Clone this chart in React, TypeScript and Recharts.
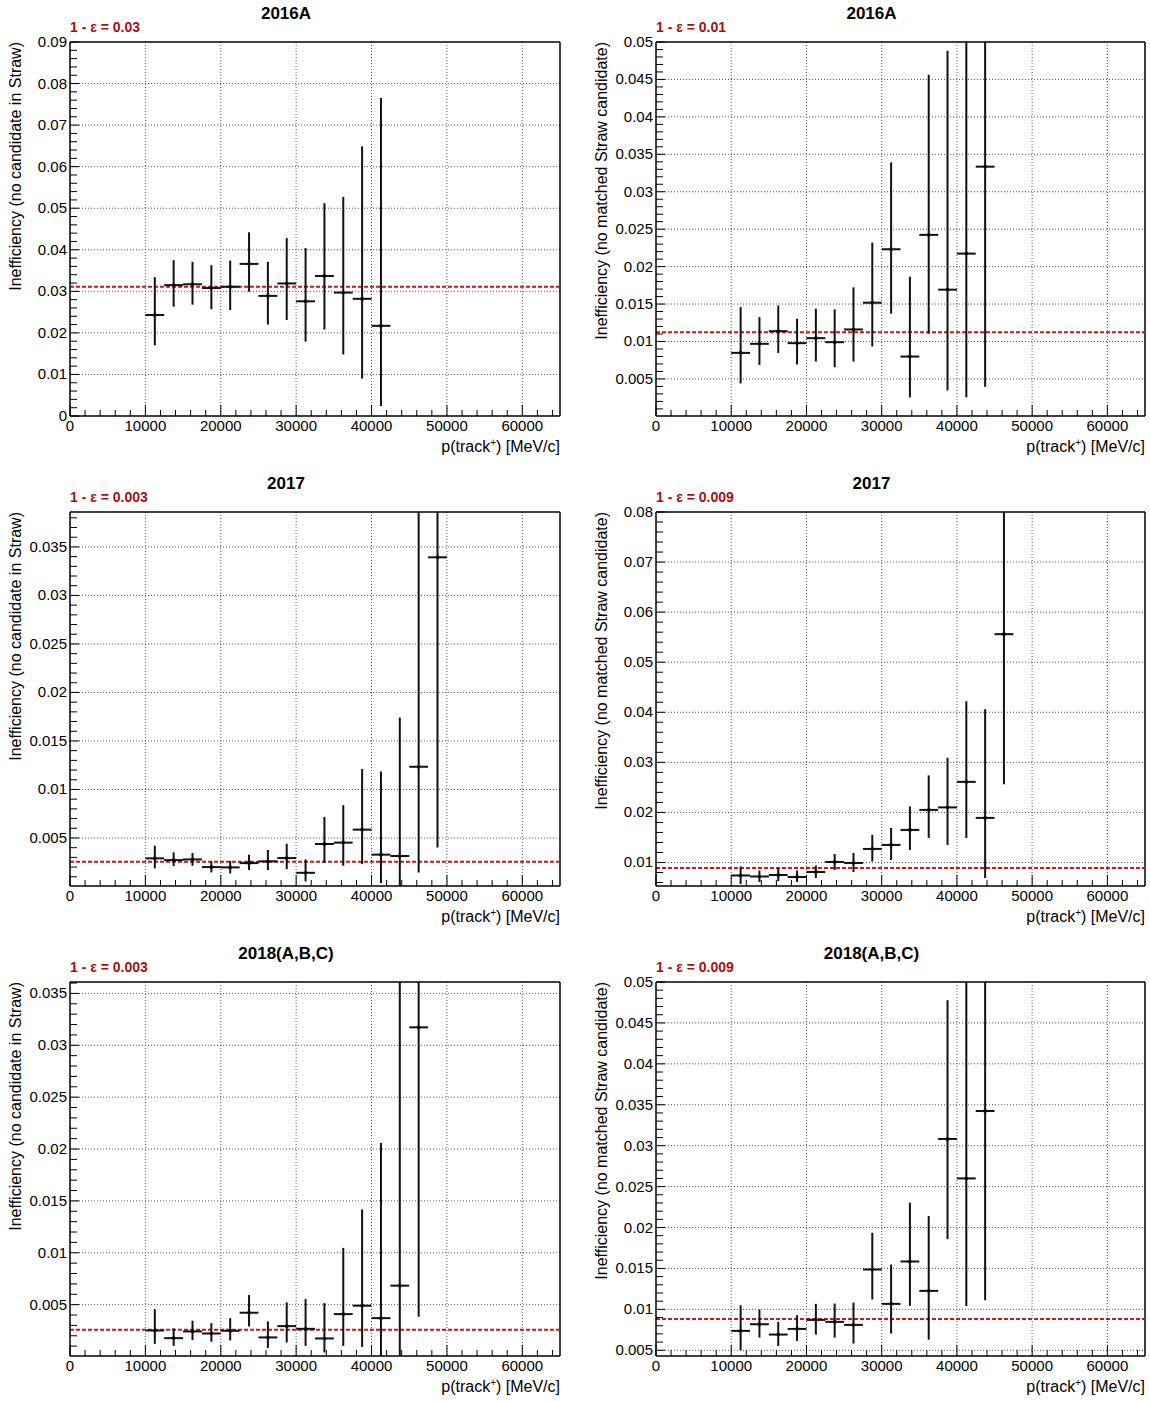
import React from 'react';
import { ScatterChart, Scatter, XAxis, YAxis, ErrorBar, ReferenceLine, CartesianGrid, Label } from 'recharts';

const FONT = '"Liberation Sans", Arial, Helvetica, sans-serif';

// momentum bins (MeV/c), 2500 wide starting at 10000
const binCenters = [11250, 13750, 16250, 18750, 21250, 23750, 26250, 28750, 31250, 33750, 36250, 38750, 41250, 43750, 46250, 48750];
const binHalfWidth = 1250;
const xMajorTicks = [0, 10000, 20000, 30000, 40000, 50000, 60000];
const xMinorStep = 2000;
const xMax = 65000;

// 2016A - no candidate in Straw
const ineff16 = [0.0243, 0.0315, 0.0317, 0.0308, 0.0311, 0.0366, 0.0289, 0.0319, 0.0276, 0.0337, 0.0297, 0.0282, 0.0217];
const lo16 = [0.0170, 0.0263, 0.0268, 0.0257, 0.0255, 0.0299, 0.0220, 0.0231, 0.0179, 0.0208, 0.0148, 0.0090, 0.0024];
const hi16 = [0.0334, 0.0375, 0.0371, 0.0363, 0.0374, 0.0442, 0.0371, 0.0428, 0.0404, 0.0512, 0.0527, 0.0649, 0.0765];

// 2016A - no matched Straw candidate
const ineff16m = [0.00848, 0.00969, 0.01138, 0.00978, 0.01045, 0.00991, 0.01161, 0.01518, 0.02232, 0.00799, 0.02424, 0.01692, 0.02174, 0.03335];
const lo16m = [0.0044, 0.00688, 0.00848, 0.00692, 0.00732, 0.00656, 0.00732, 0.00933, 0.01371, 0.00254, 0.01103, 0.00344, 0.00254, 0.00397];
const hi16m = [0.0146, 0.01326, 0.01482, 0.01304, 0.01438, 0.01429, 0.01723, 0.02321, 0.03393, 0.01866, 0.04563, 0.04884, 0.056, 0.068];

// 2017 - no candidate in Straw
const ineff17 = [0.0029, 0.00272, 0.00279, 0.002, 0.00197, 0.00241, 0.00259, 0.00293, 0.00141, 0.00438, 0.00452, 0.00586, 0.00328, 0.00314, 0.01234, 0.03393];
const lo17 = [0.00186, 0.0021, 0.00214, 0.00145, 0.00134, 0.00169, 0.00169, 0.00179, 0.00052, 0.00241, 0.00214, 0.00231, 0.00034, 0.0, 0.00145, 0.00403];
const hi17 = [0.00421, 0.00352, 0.00345, 0.00259, 0.00262, 0.00328, 0.00376, 0.00441, 0.00279, 0.00717, 0.00838, 0.0121, 0.01186, 0.01741, 0.042, 0.07];

// 2017 - no matched Straw candidate
const ineff17m = [0.0074, 0.0072, 0.0075, 0.0071, 0.0081, 0.0101, 0.0099, 0.0127, 0.0135, 0.0165, 0.0205, 0.021, 0.0261, 0.0189, 0.0556];
const lo17m = [0.0057, 0.0061, 0.0063, 0.0061, 0.0069, 0.0085, 0.0081, 0.0102, 0.0105, 0.0125, 0.0149, 0.0135, 0.0149, 0.0069, 0.0256];
const hi17m = [0.0092, 0.0084, 0.0089, 0.0084, 0.0094, 0.0117, 0.0119, 0.0155, 0.0169, 0.0212, 0.0274, 0.0309, 0.0422, 0.0406, 0.092];

// 2018(A,B,C) - no candidate in Straw
const ineff18 = [0.00251, 0.00177, 0.00242, 0.00222, 0.00248, 0.00422, 0.00184, 0.00293, 0.00267, 0.00174, 0.00409, 0.0049, 0.0037, 0.00683, 0.03173];
const lo18 = [0.00122, 0.00103, 0.00158, 0.00142, 0.00155, 0.0029, 0.00081, 0.00135, 0.00103, 0.00039, 0.00103, 0.00093, 0.0, 0.0, 0.00383];
const hi18 = [0.00457, 0.00271, 0.00345, 0.00322, 0.0037, 0.00593, 0.00338, 0.00522, 0.00554, 0.00515, 0.01047, 0.01418, 0.02059, 0.04, 0.065];

// 2018(A,B,C) - no matched Straw candidate
const ineff18m = [0.00737, 0.00818, 0.00692, 0.00761, 0.00871, 0.00847, 0.0081, 0.01487, 0.01067, 0.01585, 0.01226, 0.03082, 0.026, 0.03424];
const lo18m = [0.005, 0.00655, 0.00553, 0.00614, 0.00692, 0.00655, 0.00582, 0.0112, 0.00704, 0.01042, 0.0063, 0.01858, 0.01042, 0.01112];
const hi18m = [0.01051, 0.00998, 0.00847, 0.00928, 0.01067, 0.01071, 0.01083, 0.01936, 0.01548, 0.02303, 0.0214, 0.04778, 0.06, 0.062];

// average inefficiency (red dashed line) and its rounded caption
const avgLines = [0.0311, 0.01125, 0.00255, 0.0089, 0.00258, 0.00883];
const avgCaptions = ['0.03', '0.01', '0.003', '0.009', '0.003', '0.009'];
const titles = ['2016A', '2016A', '2017', '2017', '2018(A,B,C)', '2018(A,B,C)'];
const yTitleStraw = 'Inefficiency (no candidate in Straw)';
const yTitleMatched = 'Inefficiency (no matched Straw candidate)';

const yMajor09 = [0, 0.01, 0.02, 0.03, 0.04, 0.05, 0.06, 0.07, 0.08, 0.09];
const yMajor05 = [0.005, 0.01, 0.015, 0.02, 0.025, 0.03, 0.035, 0.04, 0.045, 0.05];
const yMajor035 = [0.005, 0.01, 0.015, 0.02, 0.025, 0.03, 0.035];
const yMajor08 = [0.01, 0.02, 0.03, 0.04, 0.05, 0.06, 0.07, 0.08];

type PanelDef = {
  title: string; caption: string; yTitle: string;
  val: number[]; lo: number[]; hi: number[]; avg: number;
  yMin: number; yMax: number; yMajor: number[]; yMinorStep: number;
};

const panels: PanelDef[] = [
  { title: titles[0], caption: avgCaptions[0], yTitle: yTitleStraw, val: ineff16, lo: lo16, hi: hi16, avg: avgLines[0], yMin: 0, yMax: 0.09, yMajor: yMajor09, yMinorStep: 0.002 },
  { title: titles[1], caption: avgCaptions[1], yTitle: yTitleMatched, val: ineff16m, lo: lo16m, hi: hi16m, avg: avgLines[1], yMin: 0.00005, yMax: 0.05, yMajor: yMajor05, yMinorStep: 0.001 },
  { title: titles[2], caption: avgCaptions[2], yTitle: yTitleStraw, val: ineff17, lo: lo17, hi: hi17, avg: avgLines[2], yMin: 0.00005, yMax: 0.0386, yMajor: yMajor035, yMinorStep: 0.001 },
  { title: titles[3], caption: avgCaptions[3], yTitle: yTitleMatched, val: ineff17m, lo: lo17m, hi: hi17m, avg: avgLines[3], yMin: 0.0053, yMax: 0.08, yMajor: yMajor08, yMinorStep: 0.002 },
  { title: titles[4], caption: avgCaptions[4], yTitle: yTitleStraw, val: ineff18, lo: lo18, hi: hi18, avg: avgLines[4], yMin: 0.00005, yMax: 0.0361, yMajor: yMajor035, yMinorStep: 0.001 },
  { title: titles[5], caption: avgCaptions[5], yTitle: yTitleMatched, val: ineff18m, lo: lo18m, hi: hi18m, avg: avgLines[5], yMin: 0.0043, yMax: 0.05, yMajor: yMajor05, yMinorStep: 0.001 },
];

const stepTicks = (min: number, max: number, step: number) => {
  const out: number[] = [];
  for (let k = Math.ceil(min / step - 1e-9); k * step <= max + 1e-12; k++) out.push(Number((k * step).toFixed(6)));
  return out;
};
const isIn = (arr: number[], v: number) => arr.some((m) => Math.abs(m - v) < 1e-9);
const fmt = (v: number) => String(Number(v.toFixed(4)));

const XTick = (props: any) => {
  const { x, y, payload } = props;
  const major = isIn(xMajorTicks, payload.value);
  return (
    <g>
      <line x1={x} y1={y} x2={x} y2={y - (major ? 11 : 6)} stroke="#000" strokeWidth={1} />
      {major && (
        <text x={x} y={y + 15} textAnchor="middle" fontSize={15} fontFamily={FONT} fill="#000">{payload.value}</text>
      )}
    </g>
  );
};

const makeYTick = (majors: number[]) => (props: any) => {
  const { x, y, payload } = props;
  const major = isIn(majors, payload.value);
  return (
    <g>
      <line x1={x} y1={y} x2={x + (major ? 9 : 7)} y2={y} stroke="#000" strokeWidth={1} />
      {major && (
        <text x={x - 3} y={y + 5} textAnchor="end" fontSize={15} fontFamily={FONT} fill="#000">{fmt(payload.value)}</text>
      )}
    </g>
  );
};

const XTitle = (props: any) => {
  const vb = props.viewBox;
  return (
    <text x={vb.x + vb.width} y={vb.y + 36} textAnchor="end" fontSize={16} fontFamily={FONT} fill="#000">
      p(track<tspan dy={-6} fontSize={10}>+</tspan><tspan dy={6}>) [MeV/c]</tspan>
    </text>
  );
};

const makeYTitle = (text: string, offset: number) => (props: any) => {
  const vb = props.viewBox;
  const cx = vb.x + offset;
  const top = vb.y;
  return (
    <text x={cx} y={top} transform={`rotate(-90 ${cx} ${top})`} textAnchor="end" dominantBaseline="central" fontSize={16} fontFamily={FONT} fill="#000">
      {text}
    </text>
  );
};

function Panel({ p, idx, left, height }: { p: PanelDef; idx: number; left: boolean; height: number }) {
  const yAxisWidth = left ? 70 : 81;
  const marginRight = left ? 15 : 5;
  const plotTop = 42;
  const plotBottom = 416;
  const width = 575;
  const plotWidth = width - yAxisWidth - marginRight;
  const rows = p.val.map((v, i) => ({ x: binCenters[i], y: v, ey: [v - p.lo[i], p.hi[i] - v], ex: binHalfWidth }));
  const yTicks = stepTicks(p.yMin, p.yMax, p.yMinorStep);
  const xTicks = stepTicks(0, xMax, xMinorStep);
  const yGrid = p.yMajor.filter((v) => v > p.yMin + 1e-9 && v < p.yMax - 1e-9);
  const xGrid = xMajorTicks.filter((v) => v > 0);
  const clipId = `plotclip-${idx}`;
  return (
    <div className={`panel-${idx}`} style={{ position: 'relative', width, height }}>
      <style>{`.panel-${idx} .recharts-errorBars { clip-path: url(#${clipId}); }`}</style>
      <svg width={0} height={0} style={{ position: 'absolute', top: 0, left: 0 }}>
        <defs>
          <clipPath id={clipId}>
            <rect x={yAxisWidth} y={plotTop} width={plotWidth} height={plotBottom - plotTop} />
          </clipPath>
        </defs>
      </svg>
      <div style={{ position: 'absolute', top: 4, left: yAxisWidth + plotWidth / 2 - 29, transform: 'translateX(-50%)', fontFamily: FONT, fontWeight: 'bold', fontSize: 17, whiteSpace: 'nowrap', lineHeight: '19px' }}>
        {p.title}
      </div>
      <div style={{ position: 'absolute', top: 19, left: yAxisWidth, fontFamily: FONT, fontWeight: 'bold', fontSize: 14, color: '#a81010', whiteSpace: 'nowrap', lineHeight: '17px' }}>
        1 - ε = {p.caption}
      </div>
      <div style={{ position: 'absolute', top: 0, left: 0 }}>
        <ScatterChart width={width} height={height} margin={{ top: plotTop, right: marginRight, bottom: 0, left: 0 }}>
          <CartesianGrid stroke="#555" strokeDasharray="1 2" horizontalValues={yGrid} verticalValues={xGrid} />
          <XAxis
            type="number" dataKey="x" domain={[0, xMax]} ticks={xTicks} interval={0}
            tickSize={0} tickMargin={0} tickLine={false} tick={<XTick />}
            axisLine={{ stroke: '#000', strokeWidth: 1.5 }} height={height - plotBottom} allowDataOverflow
          >
            <Label content={<XTitle />} />
          </XAxis>
          <YAxis
            type="number" dataKey="y" domain={[p.yMin, p.yMax]} ticks={yTicks} interval={0}
            tickSize={0} tickMargin={0} tickLine={false} tick={makeYTick(p.yMajor)}
            axisLine={{ stroke: '#000', strokeWidth: 1.5 }} width={yAxisWidth} allowDataOverflow
          >
            <Label content={makeYTitle(p.yTitle, left ? 15 : 26)} />
          </YAxis>
          <ReferenceLine y={p.yMax} stroke="#000" strokeWidth={1.5} />
          <ReferenceLine x={xMax} stroke="#000" strokeWidth={1.5} />
          <ReferenceLine y={p.avg} stroke="#c41a1a" strokeWidth={2} strokeDasharray="4 2" />
          <Scatter
            data={rows} fill="#000" isAnimationActive={false}
            shape={(s: any) => <rect x={s.cx - 1.5} y={s.cy - 1.5} width={3} height={3} fill="#000" />}
          >
            <ErrorBar dataKey="ey" direction="y" width={0} stroke="#111" strokeWidth={2} isAnimationActive={false} />
            <ErrorBar dataKey="ex" direction="x" width={0} stroke="#111" strokeWidth={2} isAnimationActive={false} />
          </Scatter>
        </ScatterChart>
      </div>
    </div>
  );
}

export default function App() {
  const rowHeights = [470, 470, 461];
  return (
    <div style={{ position: 'absolute', top: 0, left: 0, width: 1150, background: '#fff' }}>
      {rowHeights.map((h, r) => (
        <div key={r} style={{ display: 'flex' }}>
          <Panel p={panels[r * 2]} idx={r * 2} left height={h} />
          <Panel p={panels[r * 2 + 1]} idx={r * 2 + 1} left={false} height={h} />
        </div>
      ))}
    </div>
  );
}
